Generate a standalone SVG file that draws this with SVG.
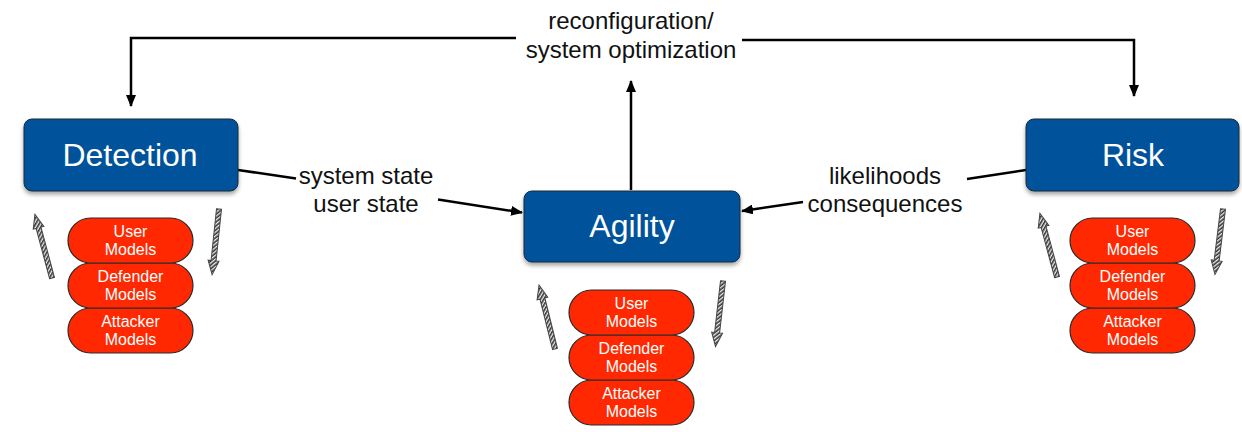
<svg xmlns="http://www.w3.org/2000/svg" width="1242" height="432" viewBox="0 0 1242 432">
<defs>
<style>
.box{fill:#05529A;stroke:#1a2a3a;stroke-width:1;filter:url(#sh)}
.boxt{fill:#fff;font-family:"Liberation Sans",Arial,sans-serif;font-size:32px;text-anchor:middle}
.pill{fill:#FF2800;stroke:#2a2a2a;stroke-width:1.2}
.pillt{fill:#fff;font-family:"Liberation Sans",Arial,sans-serif;font-size:16px;text-anchor:middle}
.lbl{fill:#111;font-family:"Liberation Sans",Arial,sans-serif;font-size:24px;text-anchor:middle}
.con{fill:none;stroke:#000;stroke-width:2.5}
.hatch{fill:url(#hp);stroke:#444;stroke-width:1}
</style>
<filter id="sh" x="-10%" y="-20%" width="120%" height="150%">
<feDropShadow dx="0" dy="3" stdDeviation="2" flood-color="#000" flood-opacity="0.35"/>
</filter>
<pattern id="hp" width="3" height="3" patternUnits="userSpaceOnUse" patternTransform="rotate(45)">
<rect width="3" height="3" fill="#eee"/>
<rect width="1.6" height="3" fill="#333"/>
</pattern>
<marker id="ah" markerWidth="12" markerHeight="10" refX="11" refY="5" orient="auto" markerUnits="userSpaceOnUse">
<path d="M0,0 L12,5 L0,10 z" fill="#000"/>
</marker>
<path id="harrow" d="M-2.5,0 L2.5,0 L2.5,-52 L5.5,-52 L0,-66 L-5.5,-52 L-2.5,-52 z"/>
</defs>

<g id="connectors">
<path class="con" d="M516,38 H131 V106" marker-end="url(#ah)"/>
<path class="con" d="M742,40 H1134 V96" marker-end="url(#ah)"/>
<path class="con" d="M631,190 V81" marker-end="url(#ah)"/>
<path class="con" d="M238,170 L296,178.5"/>
<path class="con" d="M438,199.5 L522,212.5" marker-end="url(#ah)"/>
<path class="con" d="M1026,170 L967,179"/>
<path class="con" d="M803,202 L742,211" marker-end="url(#ah)"/>
</g>

<g id="labels">
<text class="lbl" x="631" y="29">reconfiguration/</text>
<text class="lbl" x="631" y="58">system optimization</text>
<text class="lbl" x="366" y="184">system state</text>
<text class="lbl" x="366" y="212">user state</text>
<text class="lbl" x="885" y="184">likelihoods</text>
<text class="lbl" x="885" y="212">consequences</text>
</g>

<g id="detection">
<rect class="box" x="24" y="119" width="214" height="72" rx="8"/>
<text class="boxt" x="130" y="166">Detection</text>
</g>
<g id="agility">
<rect class="box" x="524" y="191" width="216" height="71" rx="8"/>
<text class="boxt" x="632" y="237">Agility</text>
</g>
<g id="risk">
<rect class="box" x="1026" y="119" width="213" height="72" rx="8"/>
<text class="boxt" x="1133" y="166">Risk</text>
</g>

<g id="detection-models">
<use href="#harrow" class="hatch" transform="translate(52,278) rotate(-15)"/>
<use href="#harrow" class="hatch" transform="translate(219,209) rotate(186)"/>
<rect class="pill" x="68" y="308" width="125" height="45" rx="22.5"/>
<text class="pillt" x="130.5" y="327">Attacker</text>
<text class="pillt" x="130.5" y="345">Models</text>
<rect class="pill" x="68" y="263" width="125" height="45" rx="22.5"/>
<text class="pillt" x="130.5" y="282">Defender</text>
<text class="pillt" x="130.5" y="300">Models</text>
<rect class="pill" x="68" y="218" width="125" height="45" rx="22.5"/>
<text class="pillt" x="130.5" y="237">User</text>
<text class="pillt" x="130.5" y="255">Models</text>
</g>

<g id="agility-models">
<use href="#harrow" class="hatch" transform="translate(555,349) rotate(-14)"/>
<use href="#harrow" class="hatch" transform="translate(723,281) rotate(186.5)"/>
<rect class="pill" x="569" y="380" width="125" height="45" rx="22.5"/>
<text class="pillt" x="631.5" y="399">Attacker</text>
<text class="pillt" x="631.5" y="417">Models</text>
<rect class="pill" x="569" y="335" width="125" height="45" rx="22.5"/>
<text class="pillt" x="631.5" y="354">Defender</text>
<text class="pillt" x="631.5" y="372">Models</text>
<rect class="pill" x="569" y="290" width="125" height="45" rx="22.5"/>
<text class="pillt" x="631.5" y="309">User</text>
<text class="pillt" x="631.5" y="327">Models</text>
</g>

<g id="risk-models">
<use href="#harrow" class="hatch" transform="translate(1057,277) rotate(-15)"/>
<use href="#harrow" class="hatch" transform="translate(1223,209) rotate(187)"/>
<rect class="pill" x="1070" y="308" width="125" height="45" rx="22.5"/>
<text class="pillt" x="1132.5" y="327">Attacker</text>
<text class="pillt" x="1132.5" y="345">Models</text>
<rect class="pill" x="1070" y="263" width="125" height="45" rx="22.5"/>
<text class="pillt" x="1132.5" y="282">Defender</text>
<text class="pillt" x="1132.5" y="300">Models</text>
<rect class="pill" x="1070" y="218" width="125" height="45" rx="22.5"/>
<text class="pillt" x="1132.5" y="237">User</text>
<text class="pillt" x="1132.5" y="255">Models</text>
</g>
</svg>
